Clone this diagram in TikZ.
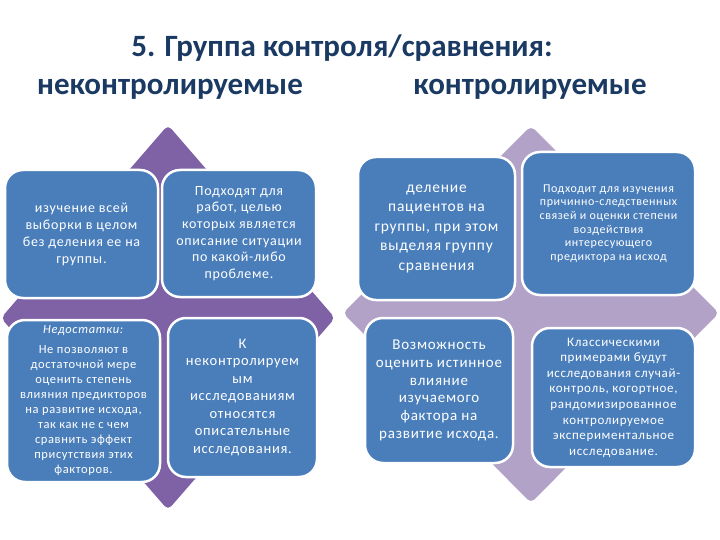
\documentclass[tikz,border=0pt]{standalone}
\usepackage{fontspec}
\setmainfont{Carlito}
\newfontfamily\boxfont{Carlito}[LetterSpace=5]
\definecolor{boxblue}{HTML}{4A7EBB}
\definecolor{purpleL}{HTML}{7F62A5}
\definecolor{purpleR}{HTML}{B3A2C8}
\definecolor{titleblue}{HTML}{1B3A63}
\tikzset{
  box/.style={draw=white, line width=2.5pt, fill=boxblue, rounded corners=18pt,
    text=white, align=center, inner sep=0pt},
  titletext/.style={text=titleblue, font=\bfseries\fontsize{31}{36}\selectfont, inner sep=0pt}
}
\begin{document}
\begin{tikzpicture}[x=1pt,y=-1pt]
\useasboundingbox (0,0) rectangle (720,540);
\fill[white] (0,0) rectangle (720,540);
% titles
\node[titletext] (title) at (342,48) {5. Группа контроля/сравнения:};
\node[titletext] (unc) at (170,89) {неконтролируемые};
\node[titletext] (con) at (530,89) {контролируемые};
% diamonds
\fill[purpleL, rounded corners=5pt] (168,125) -- (335,318) -- (168,510) -- (1,318) -- cycle;
\fill[purpleR, rounded corners=5pt] (531,126) -- (719,313) -- (531,503) -- (343,313) -- cycle;
% boxes left
\node[box, minimum width=153pt, minimum height=128pt, font=\boxfont\fontsize{14}{17}\selectfont] (ltl) at (81.5,234)
  {изучение всей\\ выборки в целом\\ без деления ее на\\ группы.};
\node[box, minimum width=154pt, minimum height=127pt, font=\boxfont\fontsize{14}{16.7}\selectfont] (ltr) at (239,233.5)
  {Подходят для\\ работ, целью\\ которых является\\ описание ситуации\\ по какой-либо\\ проблеме.};
\node[box, minimum width=153pt, minimum height=162pt, font=\boxfont\fontsize{12.5}{15}\selectfont] (lbl) at (83.5,401)
  {\textit{Недостатки:}\\[5pt] Не  позволяют в\\ достаточной мере\\ оценить степень\\ влияния предикторов\\ на развитие исхода,\\ так как не с чем\\ сравнить эффект\\ присутствия этих\\ факторов.};
\node[box, minimum width=149pt, minimum height=159pt, font=\boxfont\fontsize{14.5}{17.5}\selectfont] (lbr) at (242.5,397.5)
  {К\\ неконтролируем\\ ым\\ исследованиям\\ относятся\\ описательные\\ исследования.};
% boxes right
\node[box, minimum width=157pt, minimum height=143pt, font=\boxfont\fontsize{15.5}{19.5}\selectfont] (rtl) at (436.5,228.5)
  {деление\\ пациентов на\\ группы, при этом\\ выделяя группу\\ сравнения};
\node[box, minimum width=173pt, minimum height=143pt, font=\boxfont\fontsize{12}{13.6}\selectfont] (rtr) at (608.5,223.5)
  {Подходит для изучения\\ причинно-следственных\\ связей и оценки степени\\ воздействия\\ интересующего\\ предиктора на исход};
\node[box, minimum width=148pt, minimum height=145pt, font=\boxfont\fontsize{15}{17.8}\selectfont] (rbl) at (439,390.5)
  {Возможность\\ оценить истинное\\ влияние\\ изучаемого\\ фактора на\\ развитие исхода.};
\node[box, minimum width=163pt, minimum height=139pt, font=\boxfont\fontsize{13}{15.6}\selectfont] (rbr) at (613.5,397.5)
  {Классическими\\ примерами будут\\ исследования случай-\\ контроль, когортное,\\ рандомизированное\\ контролируемое\\ экспериментальное\\ исследование.};
\end{tikzpicture}
\end{document}
